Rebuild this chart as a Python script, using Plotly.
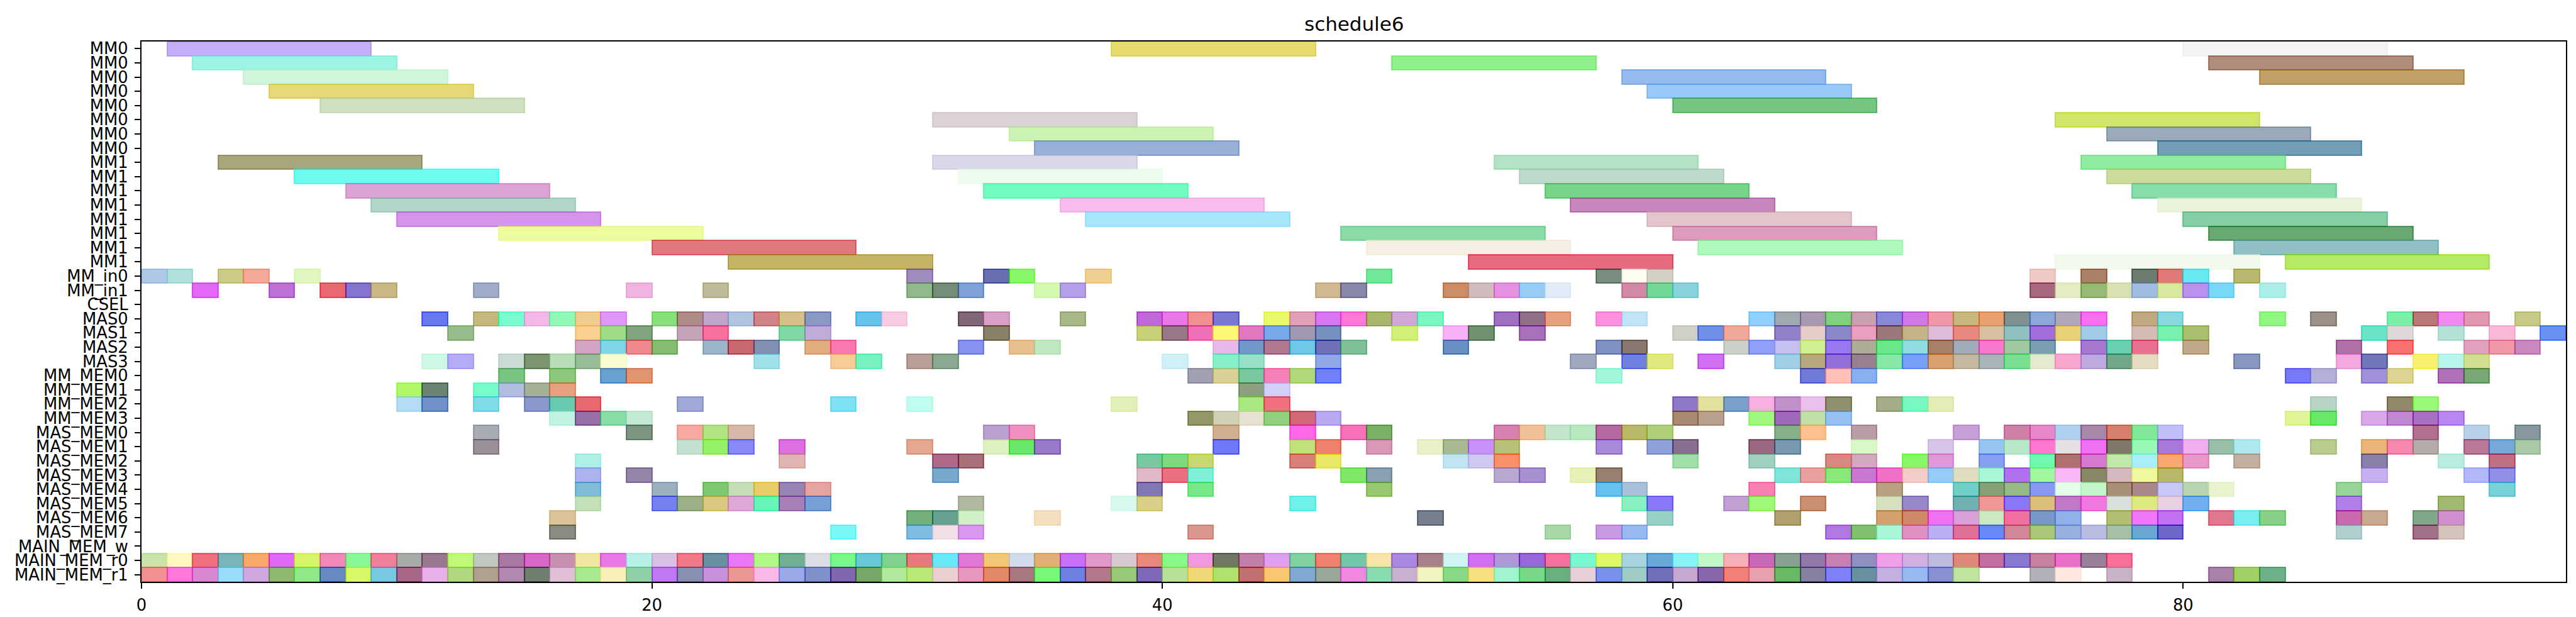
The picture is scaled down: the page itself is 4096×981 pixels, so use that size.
import plotly.graph_objects as go

# ---------------- data ----------------
row_labels = (["MM0"] * 8 + ["MM1"] * 8 +
              ["MM_in0", "MM_in1", "CSEL", "MAS0", "MAS1", "MAS2", "MAS3",
               "MM_MEM0", "MM_MEM1", "MM_MEM2", "MM_MEM3",
               "MAS_MEM0", "MAS_MEM1", "MAS_MEM2", "MAS_MEM3",
               "MAS_MEM4", "MAS_MEM5", "MAS_MEM6", "MAS_MEM7",
               "MAIN_MEM_w", "MAIN_MEM_r0", "MAIN_MEM_r1"])

MM_DURATION = 8
BOX_DURATION = 1
X_MAX = 95

# MM0 / MM1 rows (long tasks)
mm_starts = [
    [1, 38, 80], [2, 49, 81], [4, 58, 83], [5, 59], [7, 60], [31, 75], [34, 77], [35, 79],
    [3, 31, 53, 76], [6, 32, 54, 77], [8, 33, 55, 78], [9, 36, 56, 79],
    [10, 37, 59, 80], [14, 47, 60, 81], [20, 48, 61, 82], [23, 52, 75, 84],
]
mm_colors = [
    ['c4aef8', 'e6dc6e', 'f4f2f4'], ['9ef4e4', '90f08c', 'b08c7c'], ['d0f6da', '94baee', 'c0a068'],
    ['e6d878', '98c8f8'], ['cee0c0', '74c680'], ['dcd2d6', 'd2e46a'], ['ccf2b4', '9aaab8'],
    ['98b0d8', '729eb8'],
    ['a8a67c', 'dad8e8', 'b4e2c4', '8eeca0'], ['6cfcf0', 'eefcf0', 'bedacc', 'ccdc9c'],
    ['dca4d4', '74fcc0', '78d488', '88dcac'], ['b0d6c8', 'f8bcec', 'c688bc', 'eaf4dc'],
    ['d494ea', 'a8e6fc', 'e2c6cc', '86cea6'], ['eefc9e', '8cdca8', 'dc9cbe', '6aa872'],
    ['e07880', 'f6f0e4', 'b0f8bc', '90c0c4'], ['c4b464', 'e66a80', 'f2faee', 'b4ea62'],
]

# MM_in0, MM_in1
mm_in_starts = [
    [0, 1, 3, 4, 6, 30, 33, 34, 37, 48, 57, 58, 59, 74, 76, 78, 79, 80, 82],
    [2, 5, 7, 8, 9, 13, 19, 22, 30, 31, 32, 35, 36, 46, 47, 51, 52, 53, 54, 55, 58, 59, 60,
     74, 75, 76, 77, 78, 79, 80, 81, 83],
]
mm_in_colors = [
    ['b0c8e8', 'b0e0dc', 'ccca88', 'f4a898', 'e0f8c0', 'a08cbc', '6870b0', '88f868', 'f0d090',
     '70e898', '788c80', 'fcfcf0', 'd4d0c4', 'f0c8c4', 'ac8068', '6e7c70', 'e07878', '68e8f0',
     'b8b870'],
    ['e468f8', 'bc70d8', 'e86870', '8474d0', 'c8b888', 'a0acc8', 'f0b4e0', 'bebc98', '90b88c',
     '748c78', '80a0d8', 'd4f8b0', 'b4a0e8', 'd0b890', '8888a8', 'cc8c68', 'd0bcbc', 'e890e0',
     '98ccf4', 'e0ecf8', 'd488a8', '70d898', '88d4dc', 'a86880', 'e4ecc4', '98b878', 'd8e0b4',
     'a0bce0', 'd8e8a0', 'b890f0', '78d8f8', 'a8f0e8'],
]

# CSEL
csel_starts = [[]]
csel_colors = [[]]

# MAS0..MAS3
mas_starts = [
    [11, 13, 14, 15, 16, 17, 18, 20, 21, 22, 23, 24, 25, 26, 28, 29, 32, 33, 36, 39, 40, 41, 42,
     44, 45, 46, 47, 48, 49, 50, 53, 54, 55, 57, 58, 63, 64, 65, 66, 67, 68, 69, 70, 71, 72, 73,
     74, 75, 76, 78, 79, 83, 85, 88, 89, 90, 91, 93],
    [12, 17, 18, 19, 21, 22, 25, 26, 33, 39, 40, 41, 42, 43, 44, 45, 46, 49, 51, 52, 54, 60, 61,
     62, 64, 65, 66, 67, 68, 69, 70, 71, 72, 73, 74, 75, 76, 78, 79, 80, 87, 88, 90, 92, 94],
    [17, 18, 19, 20, 22, 23, 24, 26, 27, 32, 34, 35, 42, 43, 44, 45, 46, 47, 51, 57, 58, 62, 63,
     64, 65, 66, 67, 68, 69, 70, 71, 72, 73, 74, 76, 77, 78, 80, 86, 88, 91, 92, 93],
    [11, 12, 14, 15, 16, 17, 18, 24, 27, 28, 30, 31, 40, 42, 43, 46, 56, 58, 59, 61, 64, 65, 66,
     67, 68, 69, 70, 71, 72, 73, 74, 75, 76, 77, 78, 82, 86, 87, 89, 90, 91],
]
mas_colors = [
    ['6878f0', 'c4b880', '78fcd0', 'f4b8e8', '90f8b8', 'f0cc90', 'e098f8', '88e078', 'b08c88',
     'c0a4cc', 'b0c4e0', 'd48088', 'd4c088', '8c98c4', '64c4ec', 'f8cce4', '806878', 'd8a0c8',
     'a8b888', 'c068d8', 'e878e8', 'f09090', '7878d0', 'e8f868', 'e0a0b8', 'd878f0', 'ff78d8',
     'a8b868', 'd0a8d8', '78f8c0', 'a070c0', '907088', 'e8a080', 'ff90e0', 'c0e4f4', '90d0ff',
     'a0a8b0', 'a898b0', '80d080', 'c8a0b0', '8888d8', 'd078e8', 'f098a8', 'c8b880', 'e8a070',
     '809090', '8ca8d8', 'b0a8b8', 'f870f0', 'c0a880', '88d8e0', '90f880', '9c9088', '78f0a8',
     'b87878', 'f088f0', 'e098b0', 'c8c888'],
    ['98bc8c', 'f8d090', 'a0dc88', '80a480', 'c4a4b8', 'f870a0', '80d8a4', 'c0acd8', '888068',
     'c8d078', '987888', 'f070b8', 'fff878', 'e078c0', '78a8e8', 'a098b0', '7890c0', 'd0f078',
     'f8b0f8', '709070', 'a870b8', 'd0d0c8', '7090e8', 'f0a898', '9080c8', 'e4ccc8', '8888c8',
     'e8a0c0', '987878', 'c4b488', 'dcbcd8', 'e88880', 'd8c0a0', '90c0c0', 'a070d8', 'e8d078',
     'a0cce8', 'd4bcb4', '78f0b0', 'a8c070', '68e4c8', 'e0d8d8', 'b4e0d8', 'f8b8d8', '6890f0'],
    ['d4a4c4', '80d4e8', 'f08890', '84bc74', '9cb4c8', 'c86870', '8090b0', 'e0ac80', 'f878b0',
     '8890f0', 'e8c090', 'c0e8c0', 'e8b8e8', '7098c8', 'b07890', '70c8e8', '7070b8', '80c098',
     '6890c0', '8090c0', '887870', 'c8d0c8', '90a0f8', 'c4c0f0', 'd0f090', '9878f0', 'acac98',
     '68e888', '90dce0', 'a88068', 'a0acb8', 'f878d0', 'a0c8a0', '7aa0b0', 'a878d0', '68d0b0',
     'e87090', 'c0a888', 'b070a8', 'f87070', 'e0a0c0', 'f098a8', 'c888c0'],
    ['ccf8e4', 'b4acf8', 'c8dcd4', '7c9470', 'b8dcb8', '98bc98', 'f8fcd0', 'a0e0e8', 'f8cc98',
     '78f0c0', 'b8a098', '8ca890', 'd0f0f8', '88f0c8', '98e0c8', '90a8e8', 'a0a8c0', '7080e0',
     'e0e880', 'd070f0', 'a0d0e8', 'b8a880', '9070d8', '988090', '88e8a8', '78a0f8', 'd8a070',
     'c4b8a0', 'a8b4b8', '78e090', 'e4ead0', 'f8a8d0', 'c0a8e0', '70a888', 'e4dcc0', '8898c0',
     'f4a8e0', '7078b8', 'f8f070', 'b8f4ec', 'd0e090'],
]

# MM_MEM0..MM_MEM3
mm_mem_starts = [
    [14, 16, 18, 19, 41, 42, 43, 44, 45, 46, 57, 65, 66, 67, 84, 85, 87, 88, 90, 91],
    [10, 11, 13, 14, 15, 16, 43, 44],
    [10, 11, 13, 15, 16, 17, 21, 27, 30, 38, 43, 44, 60, 61, 62, 63, 64, 65, 66, 68, 69, 70, 85,
     88, 89],
    [16, 17, 18, 19, 41, 42, 43, 44, 45, 46, 60, 61, 63, 64, 65, 66, 84, 85, 87, 88, 89, 90],
]
mm_mem_colors = [
    ['78c480', '8cc87c', '68a0d0', 'e09470', 'a0a0b0', 'd8d098', '78c8a0', 'f880b8', 'b0d878',
     '7080f8', 'a0f8d8', '7078d8', 'ffc0b8', '88b0f0', '7878f8', 'b0b0d8', 'a090d8', 'dcd490',
     'b070b8', '78a878'],
    ['b0f868', '6c8474', '78fccc', 'b0bce0', 'a4b098', 'e8a080', '8ca080', 'd0d0f8'],
    ['b4dcf4', '7090c8', '80dce8', '8c98cc', '68c8b0', 'e86870', 'a0a8d8', '80e0f4', 'c0fcf0',
     'e0f0b8', 'a8e880', 'f07080', '9078c8', 'e4e0a0', '78a0c8', 'f8b0e0', 'c090c8', 'ecc0ec',
     '909070', 'a4ac88', '78f8c0', 'e4ecb8', 'b8d4c4', '908868', '98f878'],
    ['c0f4e0', '9870a8', '88dca8', 'c4e8d4', '949868', 'd0d0b8', 'e8e0d0', '90d080', 'd06878',
     'b8a8f0', 'a88870', 'b8a090', 'a0f880', 'a068b8', 'c0e0a8', '98c0f0', 'e0f498', '68e868',
     'd8a8e8', 'c088d0', 'a870c0', 'b888f0'],
]

# MAS_MEM0..MAS_MEM7
mas_mem_starts = [
    [13, 19, 21, 22, 23, 33, 34, 42, 45, 47, 48, 53, 54, 55, 56, 57, 58, 59, 64, 65, 67, 71, 73,
     74, 75, 76, 77, 78, 79, 89, 91, 93],
    [13, 21, 22, 23, 25, 30, 33, 34, 35, 42, 45, 46, 48, 50, 51, 52, 53, 57, 59, 60, 63, 64, 67,
     70, 72, 73, 74, 75, 76, 77, 78, 79, 80, 81, 82, 85, 87, 88, 89, 91, 92, 93],
    [17, 25, 31, 32, 39, 40, 41, 45, 46, 51, 52, 53, 60, 63, 66, 67, 69, 70, 72, 74, 75, 76, 77,
     78, 79, 80, 82, 87, 90, 92],
    [17, 19, 31, 39, 40, 41, 47, 48, 53, 54, 56, 57, 64, 65, 66, 67, 68, 69, 70, 71, 72, 73, 74,
     75, 76, 77, 78, 79, 87, 91, 92],
    [17, 20, 22, 23, 24, 25, 26, 39, 41, 48, 57, 58, 63, 68, 71, 72, 73, 74, 75, 76, 77, 78, 79,
     80, 81, 86, 92],
    [17, 20, 21, 22, 23, 24, 25, 26, 32, 38, 39, 45, 58, 59, 62, 63, 65, 68, 69, 71, 72, 73, 74,
     75, 76, 77, 78, 79, 80, 86, 90],
    [16, 30, 31, 32, 35, 50, 59, 64, 68, 69, 70, 71, 72, 73, 74, 75, 77, 78, 79, 81, 82, 83, 86,
     87, 89, 90],
    [16, 27, 30, 31, 32, 41, 55, 57, 58, 66, 67, 68, 69, 70, 71, 72, 73, 74, 75, 76, 77, 78, 79,
     86, 89, 90],
]
mas_mem_colors = [
    ['a8acb4', '7c9480', 'f8a8a0', 'b0e480', 'd8b8a8', 'b8a0d0', 'f090c0', 'd0b090', 'ff68e8',
     'f870b8', '78b068', 'd880b0', 'f0c098', 'c4e4cc', 'b8e8c0', 'b868a0', 'b8b868', 'b0d078',
     '88b088', 'ffc090', 'b89ca8', 'c8a0d8', 'd080a8', 'e888c8', 'b0d0f0', 'a888a8', 'd88070',
     '80e898', 'c0c0f8', 'b07090', 'b8d0e8', '8898a0'],
    ['9c9098', 'c4e0d0', '98f068', '8888f8', 'dc70e0', 'e4a890', 'dcf0c0', '68e868', '9878c8',
     '7078f8', 'c0e078', 'f08070', 'd898b8', 'e8f0c8', 'a8b890', 'c890f8', 'b8c078', 'a888d8',
     '90a0d8', '887090', '9a6880', '7898b0', 'd8f8c8', 'd8c4e8', '98c4f0', 'b8e8c8', 'ff78d0',
     'e4e0e4', 'f070f0', '807868', '98f8b8', 'a878d8', 'f0b0f0', '98c0a8', 'b0e8f0', 'b8cc90',
     'e8b478', 'f888b0', 'b4aca8', 'b87898', '78a8d8', 'a8c8a8'],
    ['acf0e8', 'e0b4b0', 'b06888', 'a87078', '78c8a0', '80d880', 'c8d870', 'd88078', 'e8e868',
     'c0e4f0', 'd0c8f0', 'f89068', 'a0e0a8', 'a0d0c0', 'd88880', 'd4a8c0', '88f868', 'e098d8',
     '88a0f0', '70f8b0', 'b07070', 'd878d0', 'c0e8a8', 'a8f0f8', 'f8a870', 'e898c8', 'c4b0a0',
     '8880a8', 'b8ece0', 'c07080'],
    ['acb4f0', '9484a8', '78a8cc', 'e0b8c8', 'e87080', '80f0d8', '80e868', '8aa0b0', 'b8a8d0',
     'a890d0', 'e8f0b8', '988070', '80e4d8', 'e8a0a0', '88e878', 'c878d0', 'f070c8', 'f4ccc8',
     '98ccf8', 'e0dcc0', 'a8f8d8', 'b070f0', 'a0f8a0', 'f8b8f8', '888868', 'd4b8c0', 'f0f8a0',
     'b8b868', 'c8b0f0', 'b0b8f8', '9090e8'],
    ['80bcd8', '9cb0c0', '80c870', 'c4dcb8', 'e8cc68', '9884b4', 'e4a4a0', '8078b0', '78e888',
     '98c870', '68c0f0', 'a8c0d8', 'f880b0', 'b8a080', '70d0c8', '88a078', '98b888', '8898f0',
     'e4fce8', 'c4f4cc', 'a89078', 'a88888', 'c8c8f8', 'b8d4b0', 'e8f4d0', '98d498', '78d0d8'],
    ['c4e0b8', '7480f0', '9cb088', 'd8c880', 'e0a8d8', '68f4b8', 'a880b8', '78a0d8', 'b0b8a0',
     'd8f8f0', 'd8d088', '70f0e8', '88f0c0', '8878f8', 'c0a0d0', 'a0f878', 'c89070', 'd4e0c0',
     '9888c8', '70b0b0', 'f09898', '8878f8', 'dcc078', 'c078c8', 'f078e0', 'dce0dc', 'dce880',
     'e8d0e0', '70b0f0', 'b080e8', 'a0b870'],
    ['dcc498', '74b07c', '60a090', 'd0f0c8', 'f4e0c0', '788090', '98d0c8', 'b0a070', 'd4a070',
     'd08868', 'f070f0', 'd8a0d8', 'cce8c0', 'f070a0', '7898c8', '90b0e8', 'b0c070', 'f078f8',
     'c070f0', 'e07890', '78eef0', '88d088', 'c868b0', 'c8a890', '80a888', 'd090d0'],
    ['888c80', '78f8f8', '80bce0', 'f0e0e4', 'd898f0', 'd89890', 'a8d8a8', 'c898e0', '98b8f0',
     'b078e0', '80c070', 'a8f8d8', 'e090c0', 'b8b0f0', 'e07098', '6888f8', 'd08898', 'a8c878',
     '98b0e0', 'b8bce0', 'a8c0a8', '68a8d0', '7068c8', 'b0d0d0', 'a07088', 'd4c4bc'],
]

# MAIN_MEM_w, MAIN_MEM_r0, MAIN_MEM_r1
main_mem_starts = [
    [],
    [0, 1, 2, 3, 4, 5, 6, 7, 8, 9, 10, 11, 12, 13, 14, 15, 16, 17, 18, 19, 20, 21, 22, 23, 24,
     25, 26, 27, 28, 29, 30, 31, 32, 33, 34, 35, 36, 37, 38, 39, 40, 41, 42, 43, 44, 45, 46, 47,
     48, 49, 50, 51, 52, 53, 54, 55, 56, 57, 58, 59, 60, 61, 62, 63, 64, 65, 66, 67, 68, 69, 70,
     71, 72, 73, 74, 75, 76, 77],
    [0, 1, 2, 3, 4, 5, 6, 7, 8, 9, 10, 11, 12, 13, 14, 15, 16, 17, 18, 19, 20, 21, 22, 23, 24,
     25, 26, 27, 28, 29, 30, 31, 32, 33, 34, 35, 36, 37, 38, 39, 40, 41, 42, 43, 44, 45, 46, 47,
     48, 49, 50, 51, 52, 53, 54, 55, 56, 57, 58, 59, 60, 61, 62, 63, 64, 65, 66, 67, 68, 69, 70,
     71, 74, 75, 77, 81, 82, 83],
]
main_mem_colors = [
    [],
    ['c8e4a8', 'fff8c0', 'f07080', '78b4b8', 'f8a868', 'e068f8', 'd8f468', 'f088b8', '88f898',
     'f08098', 'a8aca8', '987890', 'c0f878', 'c0c8c0', 'a878a0', 'd868c8',
     'c890b0', 'f0e8a0', 'e878e8', 'b8f0e8', 'd8c0e0', 'f07888', '6890a0', 'e878f8', 'b0f888',
     '70b090', 'dcdce4', '78f888', '68c8d8', '80d090', 'e87880', '68e8f8',
     'e078d8', 'f0c878', 'd0dcec', 'e0b078', 'c870f8', 'e098c8', 'd8c8d0', 'e88878', '88f888',
     'f098e0', '707860', 'c080a8', 'e0a0f0', '80d0a0', 'f08070', '70c8a8',
     'f8e4a8', 'a888e0', 'a88088', 'd0f4f4', 'd070f0', 'b098d8', '9868d8', 'f870a0', '78f8d0',
     'e0f868', 'a8d4e0', '68a8d8', '88f4f8', 'c0f8c8', 'f4b0b8', 'c868b8',
     '88a090', '9078a8', 'c880b0', '9090c0', 'f0a0e8', 'd0b0e0', 'bcbce0', 'dd8878', 'c070a0',
     '8878d0', 'c880a0', 'e870c8', '988098', 'f87098'],
    ['f09090', 'ff78d8', 'd888d0', '98dcf8', 'd0a8e0', '90b870', '90e888', '6888c0', 'd8f868',
     '78c8e0', 'a86888', 'e8b0e8', 'b0d880', 'b0a090', 'b088b0', '708070',
     'e0c0d8', 'a8e890', 'f8f0b8', '90d0a8', 'c078f0', '8890b0', 'c890d8', 'e89890', 'f8b8e8',
     '98a8e8', '8090c8', '8068b0', '78a868', 'b0e8a0', 'b8e878', 'e8d0d0',
     'e898c0', 'e08868', 'a87880', '78f878', '7080e0', 'b07888', '98c878', '8068b8', 'b8e098',
     'f0d878', 'b0e070', 'c07070', 'f8c870', '80a8d0', '98a898', 'f088e0',
     '88dcb0', 'c8b0d0', 'f0f4c0', '88d888', 'f8e080', 'a0f4d0', '78d888', '68b080', 'e8d0d8',
     '7890e8', 'a0ccc8', '7070b8', 'c4a8d0', '8868a8', 'f08078', 'e8a0b0',
     '68b868', '8880a0', '8080f8', '6890a0', 'c4b0e0', '98b8f0', '8890d0', 'c0e4a0',
     'b0b0b8', 'ffe8e0', 'c8b4c8', 'a880a8', 'a0d060', '70b088'],
]

# ---------------- build ----------------
ALPHA = 0.6
S = 0.93  # global scale vs. reference


def rgba(hexcol, alpha=ALPHA):
    vals = [int(hexcol[i:i + 2], 16) for i in (0, 2, 4)]
    base = [max(0, min(255, round((v - (1 - alpha) * 255) / alpha))) for v in vals]
    return "rgba(%d,%d,%d,%.2f)" % (base[0], base[1], base[2], alpha)


groups = [
    (mm_starts, mm_colors, MM_DURATION),
    (mm_in_starts, mm_in_colors, BOX_DURATION),
    (csel_starts, csel_colors, BOX_DURATION),
    (mas_starts, mas_colors, BOX_DURATION),
    (mm_mem_starts, mm_mem_colors, BOX_DURATION),
    (mas_mem_starts, mas_mem_colors, BOX_DURATION),
    (main_mem_starts, main_mem_colors, BOX_DURATION),
]

ys, bases, lens, fills = [], [], [], []
row = 0
for starts_list, colors_list, dur in groups:
    for starts, cols in zip(starts_list, colors_list):
        assert len(starts) == len(cols), (row, len(starts), len(cols))
        for s, c in zip(starts, cols):
            ys.append(row)
            bases.append(s)
            lens.append(dur)
            fills.append(rgba(c))
        row += 1
assert row == len(row_labels)

fig = go.Figure()
fig.add_trace(go.Bar(
    orientation="h",
    y=ys, x=lens, base=bases, width=1.0,
    marker=dict(color=fills, line=dict(color=fills, width=2.2 * S)),
    hoverinfo="skip", showlegend=False,
))

W, H = 4096, 981
FONT = "DejaVu Sans, Liberation Sans, sans-serif"
tick_font = dict(family=FONT, size=27.8 * S, color="black")

axis_common = dict(
    showgrid=False, zeroline=False, showline=True, linecolor="black",
    linewidth=2.2 * S, mirror=True, ticks="outside", ticklen=9.7 * S,
    tickwidth=2.2 * S, tickcolor="black", tickfont=tick_font,
)

fig.update_layout(
    width=W, height=H,
    margin=dict(l=217, r=24, t=58, b=62, pad=0),
    plot_bgcolor="white", paper_bgcolor="white",
    barmode="overlay", bargap=0,
    xaxis=dict(range=[0, X_MAX], tickvals=[0, 20, 40, 60, 80],
               ticktext=["0", "20", "40", "60", "80"], ticklabelstandoff=4, **axis_common),
    yaxis=dict(range=[len(row_labels) - 0.5, -0.5], tickvals=list(range(len(row_labels))),
               ticktext=row_labels, ticklabelstandoff=5, **axis_common),
    annotations=[dict(text="schedule6", x=0.5, y=1, xref="paper", yref="paper",
                      xanchor="center", yanchor="bottom", yshift=8, showarrow=False,
                      font=dict(family=FONT, size=33.3 * S, color="black"))],
)

fig.write_html("out.html")
